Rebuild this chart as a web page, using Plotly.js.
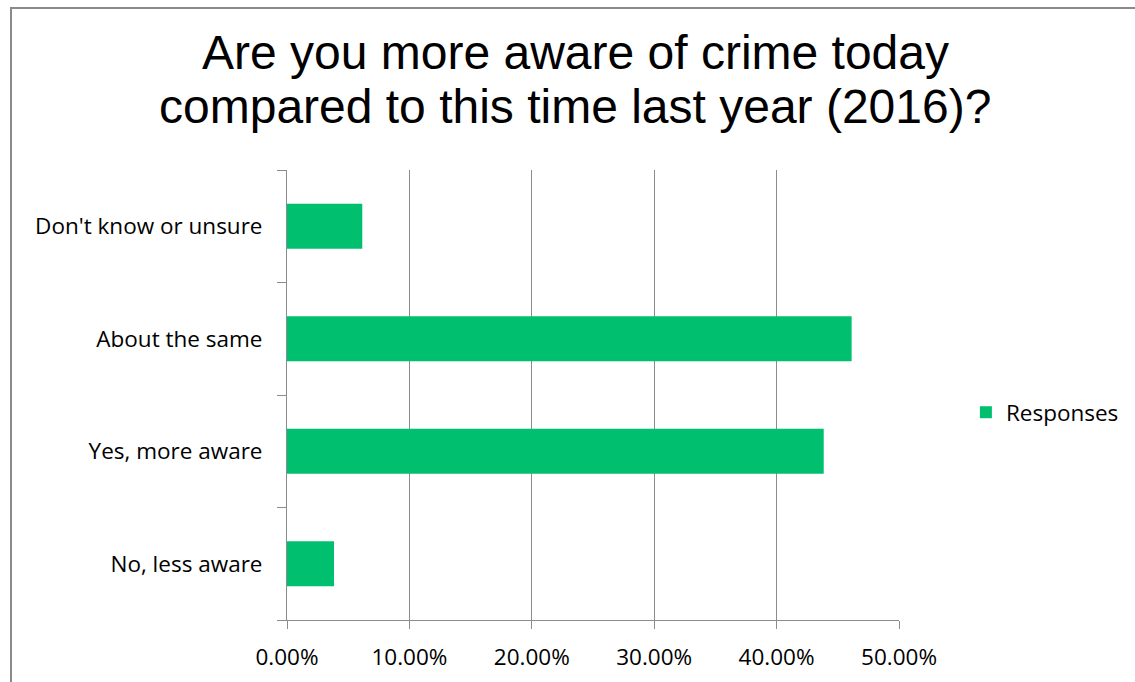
<!DOCTYPE html>
<html>
<head>
<meta charset="utf-8">
<script src="https://cdn.plot.ly/plotly-3.0.1.min.js"></script>
<style>
  html, body { margin: 0; padding: 0; background: #fff; }
  #wrap { position: relative; width: 1135px; height: 682px; overflow: hidden; }
  #chart { position: absolute; left: 0; top: 0; width: 1135px; height: 682px; }
  #frame { position: absolute; left: 10px; top: 7px; width: 1200px; height: 800px;
           border-left: 2px solid #8a8a8a; border-top: 2px solid #8a8a8a; pointer-events: none; }
</style>
</head>
<body>
<div id="wrap">
  <div id="chart"></div>
  <div id="frame"></div>
</div>
<script>
const categories = ["No, less aware", "Yes, more aware", "About the same", "Don't know or unsure"];
const responses = [0.0384, 0.4385, 0.4613, 0.0615];
const seriesName = "Responses";
const titleLines = ["Are you more aware of crime today", "compared to this time last year (2016)?"];
const xTickValues = [0, 0.1, 0.2, 0.3, 0.4, 0.5];

const labelFont = { family: "'Open Sans', sans-serif", size: 22.5, color: "#000" };
const titleFont = { family: "'Liberation Sans', Arial, sans-serif", size: 48, color: "#000" };

Plotly.newPlot("chart", [{
  type: "bar",
  orientation: "h",
  name: seriesName,
  y: categories,
  x: responses,
  marker: { color: "#00C06F" },
  width: 0.4,
  showlegend: true
}], {
  width: 1135, height: 682,
  paper_bgcolor: "#fff", plot_bgcolor: "#fff",
  margin: { l: 287, r: 236, t: 170, b: 62, autoexpand: false },
  annotations: [
    { text: titleLines[0], xref: "paper", yref: "paper", x: 0.4714, y: 1.262,
      xanchor: "center", yanchor: "middle", showarrow: false, font: titleFont },
    { text: titleLines[1], xref: "paper", yref: "paper", x: 0.4714, y: 1.142,
      xanchor: "center", yanchor: "middle", showarrow: false, font: titleFont }
  ],
  xaxis: {
    range: [0, 0.5],
    tickvals: xTickValues,
    tickformat: ".2%",
    showgrid: true, gridcolor: "#8c8c8c", gridwidth: 1,
    showline: true, linecolor: "#8c8c8c", linewidth: 1,
    zeroline: false,
    ticks: "outside", ticklen: 8, tickcolor: "#8c8c8c",
    ticklabelstandoff: 9,
    tickfont: labelFont,
    automargin: false,
    fixedrange: true
  },
  yaxis: {
    type: "category",
    categoryorder: "array", categoryarray: categories,
    showline: true, linecolor: "#8c8c8c", linewidth: 1,
    showgrid: false,
    ticks: "outside", tickson: "boundaries", ticklen: 9, tickcolor: "#8c8c8c",
    ticklabelstandoff: 19,
    tickfont: labelFont,
    automargin: false,
    fixedrange: true
  },
  legend: {
    xref: "container", yref: "container",
    x: 0.851, xanchor: "left", y: 0.395, yanchor: "middle",
    font: labelFont,
    itemwidth: 30
  },
  bargap: 0.6
}, { displayModeBar: false, staticPlot: true });
</script>
</body>
</html>
